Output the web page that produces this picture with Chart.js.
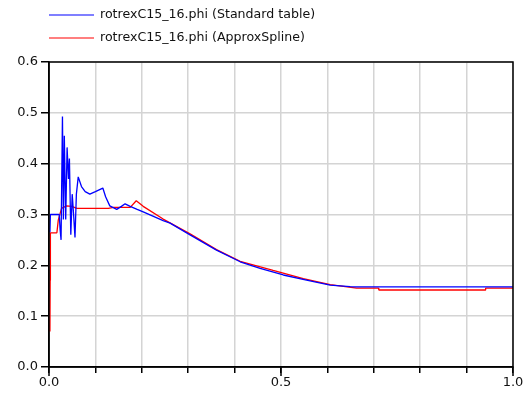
<!DOCTYPE html>
<html>
<head>
<meta charset="utf-8">
<script src="https://cdn.jsdelivr.net/npm/chart.js@4"></script>
<style>
  html, body { margin: 0; padding: 0; background: #fff; }
  #wrap { width: 529px; height: 399px; }
</style>
</head>
<body>
<div id="wrap"><canvas id="chart" width="529" height="399"></canvas></div>
<script>
var seriesLabels = ["rotrexC15_16.phi (Standard table)", "rotrexC15_16.phi (ApproxSpline)"];
var seriesColors = ["#0000ff", "#ff0000"];

// Standard table
var blueX = [0.002, 0.003, 0.022, 0.024, 0.026, 0.029, 0.031, 0.033, 0.036, 0.039, 0.042, 0.044, 0.047, 0.05, 0.053, 0.056, 0.059, 0.063,
    0.07, 0.078, 0.088, 0.1, 0.116, 0.122, 0.131, 0.146, 0.156, 0.164, 0.175, 0.19, 0.203, 0.246, 0.261, 0.304, 0.361,
    0.412, 0.455, 0.505, 0.555, 0.606, 0.649, 0.66, 1.0];
var blueY = [0.265, 0.30, 0.30, 0.27, 0.25, 0.493, 0.29, 0.455, 0.29, 0.432, 0.37, 0.41, 0.26, 0.34, 0.30, 0.255, 0.34, 0.374,
    0.355, 0.345, 0.34, 0.345, 0.352, 0.335, 0.317, 0.31, 0.316, 0.321, 0.316, 0.31, 0.305, 0.288, 0.283, 0.26, 0.23,
    0.207, 0.194, 0.181, 0.171, 0.161, 0.158, 0.1575, 0.1575];

// ApproxSpline
var redX = [0.002, 0.0025, 0.003, 0.017, 0.02, 0.027, 0.038, 0.049, 0.06, 0.128, 0.139, 0.175, 0.188, 0.203, 0.246, 0.304, 0.361,
    0.412, 0.483, 0.548, 0.606, 0.663, 0.71, 0.711, 0.94, 0.941, 1.0];
var redY = [0.07, 0.17, 0.264, 0.264, 0.289, 0.312, 0.317, 0.316, 0.312, 0.312, 0.314, 0.314, 0.327, 0.316, 0.291, 0.262, 0.231,
    0.208, 0.19, 0.174, 0.162, 0.155, 0.155, 0.1515, 0.1515, 0.155, 0.155];

var xTicks = [0, 0.5, 1.0];
var fontFamily = '"DejaVu Sans", Verdana, sans-serif';

function toPoints(xs, ys) {
    var pts = [];
    for (var i = 0; i < xs.length; i++) pts.push({x: xs[i], y: ys[i]});
    return pts;
}

// box round the plot, longer marks on labelled x ticks, legend on top
var framePlugin = {
    id: 'frame',
    afterDraw: function(chart) {
        var ctx = chart.ctx, a = chart.chartArea, xs = chart.scales.x;
        ctx.save();
        ctx.strokeStyle = '#000';
        ctx.lineWidth = 1.5;
        ctx.strokeRect(a.left, a.top, a.right - a.left, a.bottom - a.top);
        xTicks.forEach(function(t) {
            var px = xs.getPixelForValue(t);
            ctx.beginPath();
            ctx.moveTo(px, a.bottom);
            ctx.lineTo(px, a.bottom + 9);
            ctx.stroke();
        });
        ctx.font = '12.6px ' + fontFamily;
        ctx.textBaseline = 'middle';
        ctx.fillStyle = '#111';
        var rows = [15, 38];
        chart.data.datasets.forEach(function(ds, i) {
            ctx.strokeStyle = ds.borderColor;
            ctx.lineWidth = 1.2;
            ctx.beginPath();
            ctx.moveTo(49, rows[i]);
            ctx.lineTo(94, rows[i]);
            ctx.stroke();
            ctx.fillText(ds.label, 100, rows[i]);
        });
        ctx.restore();
    }
};

var chart = new Chart(document.getElementById('chart'), {
    type: 'scatter',
    data: {
        datasets: [{
            label: seriesLabels[0],
            data: toPoints(blueX, blueY),
            borderColor: seriesColors[0],
            backgroundColor: seriesColors[0],
            borderWidth: 1.3,
            borderJoinStyle: 'bevel',
            showLine: true,
            pointRadius: 0
        }, {
            label: seriesLabels[1],
            data: toPoints(redX, redY),
            borderColor: seriesColors[1],
            backgroundColor: seriesColors[1],
            borderWidth: 1.3,
            borderJoinStyle: 'bevel',
            showLine: true,
            pointRadius: 0
        }]
    },
    options: {
        responsive: false,
        animation: false,
        layout: { padding: { top: 62, right: 16, left: 0, bottom: 0 } },
        plugins: { legend: { display: false }, tooltip: { enabled: false } },
        scales: {
            x: {
                type: 'linear',
                min: 0, max: 1,
                afterFit: function(s) { s.height = 32; },
                ticks: {
                    stepSize: 0.1,
                    autoSkip: false,
                    maxRotation: 0,
                    color: '#111',
                    padding: 2,
                    font: { family: fontFamily, size: 13 },
                    callback: function(v) {
                        for (var i = 0; i < xTicks.length; i++) {
                            if (Math.abs(v - xTicks[i]) < 1e-6) return xTicks[i].toFixed(1);
                        }
                        return '';
                    }
                },
                grid: { color: '#d4d4d4', lineWidth: 1.5, tickColor: '#000', tickLength: 6 },
                border: { color: '#000', width: 1.5 }
            },
            y: {
                min: 0, max: 0.6,
                afterFit: function(s) { s.width = 49; },
                ticks: {
                    stepSize: 0.1,
                    color: '#111',
                    padding: 3,
                    font: { family: fontFamily, size: 13 },
                    callback: function(v) { return v.toFixed(1); }
                },
                grid: { color: '#d4d4d4', lineWidth: 1.5, tickColor: '#000', tickLength: 8 },
                border: { color: '#000', width: 1.5 }
            }
        }
    },
    plugins: [framePlugin]
});
</script>
</body>
</html>
